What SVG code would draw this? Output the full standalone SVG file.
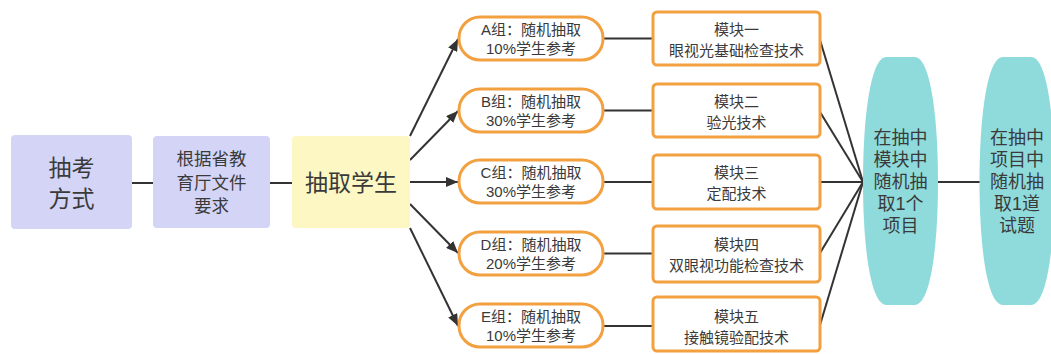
<svg xmlns="http://www.w3.org/2000/svg" width="1051" height="354" viewBox="0 0 1051 354">
<style>
.t{font-family:"Liberation Sans","Noto Sans CJK SC",sans-serif;fill:#3a3a3a;text-anchor:middle;dominant-baseline:central}
.blue{fill:#d4d5f6}
.yel{fill:#fdf7c4}
.grp{fill:#ffffff;stroke:#f2a040;stroke-width:3}
.mod{fill:#ffffff;stroke:#f2a040;stroke-width:3}
.ell{fill:#8fdbdc}
.ln{stroke:#333333;stroke-width:2;fill:none}
.f24{font-size:23px}
.f18{font-size:17.5px}
.f15{font-size:15px}
.f17{font-size:18px}
</style>
<defs>
<marker id="ah" viewBox="0 0 12 10" refX="12" refY="5" markerWidth="12" markerHeight="10" markerUnits="userSpaceOnUse" orient="auto">
<path d="M0,0 L12,5 L0,10 Z" fill="#333333"/>
</marker>
</defs>
<rect width="1051" height="354" fill="#ffffff"/>
<g id="connectors">
<line class="ln" x1="132" y1="183" x2="153" y2="183"/>
<line class="ln" x1="270" y1="183" x2="292" y2="183"/>
<line class="ln" x1="410" y1="136" x2="458" y2="39" marker-end="url(#ah)"/>
<line class="ln" x1="410" y1="160" x2="458" y2="111" marker-end="url(#ah)"/>
<line class="ln" x1="410" y1="182" x2="458" y2="182" marker-end="url(#ah)"/>
<line class="ln" x1="410" y1="204" x2="458" y2="253" marker-end="url(#ah)"/>
<line class="ln" x1="410" y1="228" x2="458" y2="326" marker-end="url(#ah)"/>
<line class="ln" x1="603" y1="38.5" x2="653" y2="38.5"/>
<line class="ln" x1="603" y1="110.5" x2="653" y2="110.5"/>
<line class="ln" x1="603" y1="182" x2="653" y2="182"/>
<line class="ln" x1="603" y1="253.5" x2="653" y2="253.5"/>
<line class="ln" x1="603" y1="326" x2="653" y2="326"/>
<line class="ln" x1="820" y1="40" x2="863" y2="182"/>
<line class="ln" x1="820" y1="112" x2="863" y2="182"/>
<line class="ln" x1="820" y1="182" x2="863" y2="182"/>
<line class="ln" x1="820" y1="253" x2="863" y2="182"/>
<line class="ln" x1="820" y1="325" x2="863" y2="182"/>
<line class="ln" x1="938" y1="182" x2="980" y2="182"/>
</g>
<g id="n-method">
<rect class="blue" x="11" y="135" width="121" height="94" rx="4"/>
<text class="t f24" x="71.5" y="168">抽考</text>
<text class="t f24" x="71.5" y="199">方式</text>
</g>
<g id="n-basis">
<rect class="blue" x="153" y="136" width="117" height="92" rx="4"/>
<text class="t f18" x="211.5" y="159">根据省教</text>
<text class="t f18" x="211.5" y="183">育厅文件</text>
<text class="t f18" x="211.5" y="206">要求</text>
</g>
<g id="n-draw">
<rect class="yel" x="292" y="136" width="118" height="92" rx="4"/>
<text class="t f24" x="351" y="183">抽取学生</text>
</g>
<g id="g-a">
<rect class="grp" x="459" y="17" width="144" height="43" rx="21"/>
<text class="t f15" x="531" y="29.5">A组：随机抽取</text>
<text class="t f15" x="531" y="48">10%学生参考</text>
</g>
<g id="g-b">
<rect class="grp" x="459" y="89" width="144" height="43" rx="21"/>
<text class="t f15" x="531" y="101.5">B组：随机抽取</text>
<text class="t f15" x="531" y="120">30%学生参考</text>
</g>
<g id="g-c">
<rect class="grp" x="459" y="160" width="144" height="43" rx="21"/>
<text class="t f15" x="531" y="172.5">C组：随机抽取</text>
<text class="t f15" x="531" y="191">30%学生参考</text>
</g>
<g id="g-d">
<rect class="grp" x="459" y="232" width="144" height="43" rx="21"/>
<text class="t f15" x="531" y="244.5">D组：随机抽取</text>
<text class="t f15" x="531" y="263">20%学生参考</text>
</g>
<g id="g-e">
<rect class="grp" x="459" y="304" width="144" height="43" rx="21"/>
<text class="t f15" x="531" y="316.5">E组：随机抽取</text>
<text class="t f15" x="531" y="335">10%学生参考</text>
</g>
<g id="m-1">
<rect class="mod" x="653" y="12" width="167" height="53" rx="4"/>
<text class="t f15" x="736.5" y="29">模块一</text>
<text class="t f15" x="736.5" y="50">眼视光基础检查技术</text>
</g>
<g id="m-2">
<rect class="mod" x="653" y="84" width="167" height="53" rx="4"/>
<text class="t f15" x="736.5" y="101">模块二</text>
<text class="t f15" x="736.5" y="122">验光技术</text>
</g>
<g id="m-3">
<rect class="mod" x="653" y="155" width="167" height="54" rx="4"/>
<text class="t f15" x="736.5" y="172">模块三</text>
<text class="t f15" x="736.5" y="193">定配技术</text>
</g>
<g id="m-4">
<rect class="mod" x="653" y="226" width="167" height="56" rx="4"/>
<text class="t f15" x="736.5" y="244">模块四</text>
<text class="t f15" x="736.5" y="265">双眼视功能检查技术</text>
</g>
<g id="m-5">
<rect class="mod" x="653" y="297" width="167" height="54" rx="4"/>
<text class="t f15" x="736.5" y="316">模块五</text>
<text class="t f15" x="736.5" y="337">接触镜验配技术</text>
</g>
<g id="e-1">
<path class="ell" d="M886.5,57 L914.5,57 C931,57 938,120 938,182 C938,244 931,305 914.5,305 L886.5,305 C870,305 863,244 863,182 C863,120 870,57 886.5,57 Z"/>
<text class="t f17" x="900.5" y="138">在抽中</text>
<text class="t f17" x="900.5" y="160">模块中</text>
<text class="t f17" x="900.5" y="182">随机抽</text>
<text class="t f17" x="900.5" y="204">取1个</text>
<text class="t f17" x="900.5" y="226">项目</text>
</g>
<g id="e-2">
<path class="ell" d="M1003,57 L1031,57 C1047.5,57 1054.5,120 1054.5,182 C1054.5,244 1047.5,305 1031,305 L1003,305 C986.5,305 979.5,244 979.5,182 C979.5,120 986.5,57 1003,57 Z"/>
<text class="t f17" x="1017" y="138">在抽中</text>
<text class="t f17" x="1017" y="160">项目中</text>
<text class="t f17" x="1017" y="182">随机抽</text>
<text class="t f17" x="1017" y="204">取1道</text>
<text class="t f17" x="1017" y="226">试题</text>
</g>
</svg>
